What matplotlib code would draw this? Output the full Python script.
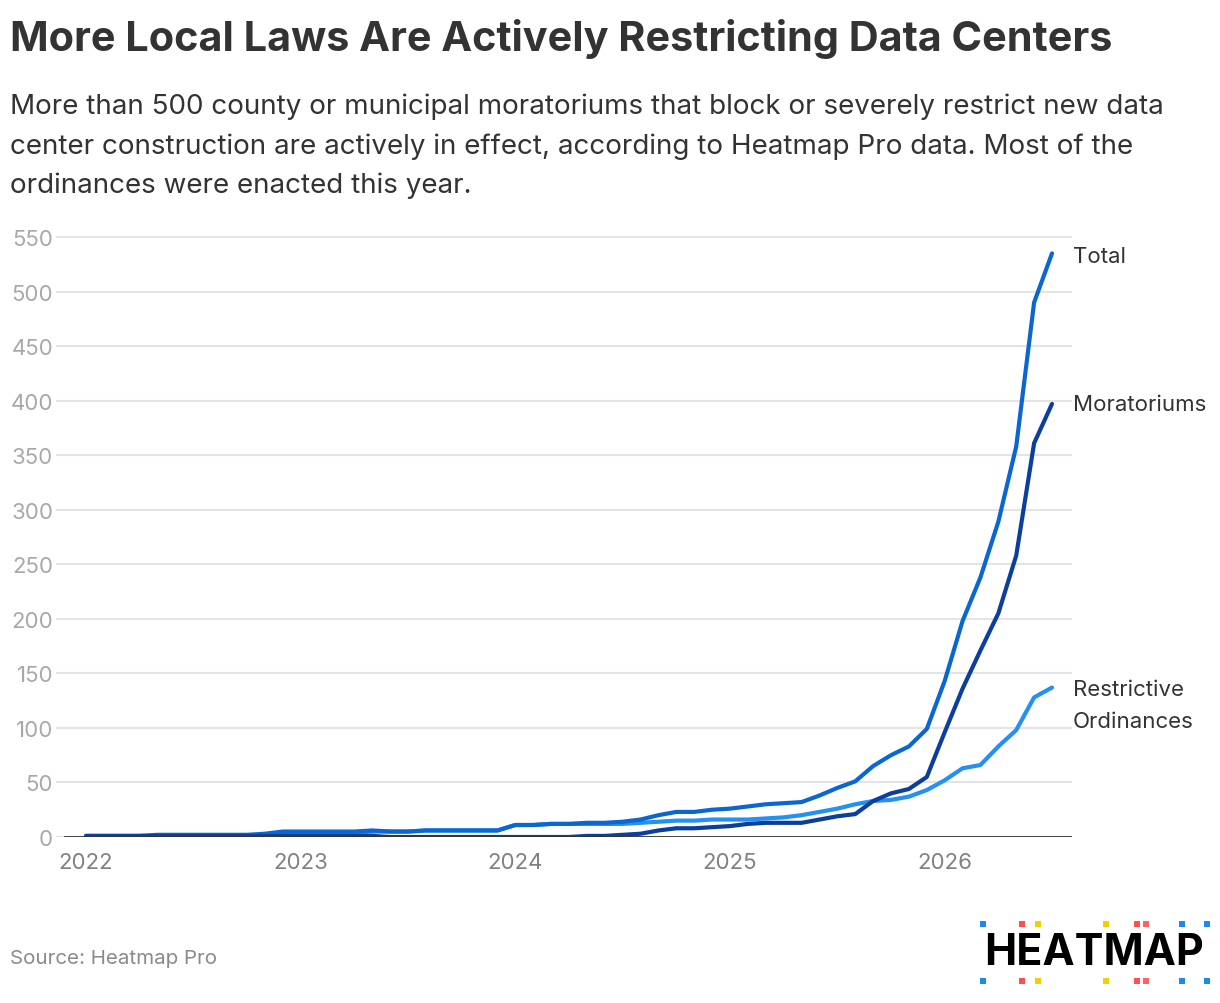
import numpy as np
import matplotlib
matplotlib.use("Agg")
import matplotlib.pyplot as plt
from matplotlib.patches import Rectangle

plt.rcParams['font.family'] = ['Inter', 'DejaVu Sans']

# monthly counts, Jan 2022 .. Jul 2026
total = [1, 1, 1, 1, 2, 2, 2, 2, 2, 2, 3, 5,
         5, 5, 5, 5, 6, 5, 5, 6, 6, 6, 6, 6,
         11, 11, 12, 12, 13, 13, 14, 16, 20, 23, 23, 25,
         26, 28, 30, 31, 32, 38, 45, 51, 65, 75, 83, 99,
         143, 198, 238, 289, 358, 490, 535]
moratoriums = [1, 1, 1, 1, 1, 1, 1, 1, 1, 1, 1, 1,
               1, 1, 1, 1, 1, 0, 0, 0, 0, 0, 0, 0,
               0, 0, 0, 0, 1, 1, 2, 3, 6, 8, 8, 9,
               10, 12, 13, 13, 13, 16, 19, 21, 33, 40, 44, 55,
               96, 136, 171, 205, 258, 361, 397]
restrictive = [0, 0, 0, 0, 1, 1, 1, 1, 1, 1, 2, 4,
               4, 4, 4, 4, 5, 5, 5, 6, 6, 6, 6, 6,
               11, 11, 12, 12, 12, 12, 12, 13, 14, 15, 15, 16,
               16, 16, 17, 18, 20, 23, 26, 30, 33, 34, 37, 43,
               52, 63, 66, 83, 98, 128, 137]
year_ticks = [0, 12, 24, 36, 48]
year_labels = ['2022', '2023', '2024', '2025', '2026']
y_ticks = list(range(0, 551, 50))

c_total = '#0a67d2'
c_mor = '#0a3f9e'
c_res = '#2490f2'
dark = '#333333'

W, H = 1220, 1004
fig = plt.figure(figsize=(W / 100, H / 100), dpi=100)
fig.patch.set_facecolor('white')

# axes placed in pixel terms
left, right = 56, 1072
bottom_px = 838
top_val = 552
px_per_unit = 600 / 550
top_px = bottom_px - top_val * px_per_unit
ax = fig.add_axes([left / W, (H - bottom_px) / H, (right - left) / W, (bottom_px - top_px) / H])

x = np.arange(len(total))
px_per_month = (1052 - 86) / 54
ax.set_xlim((left - 86) / px_per_month, (right - 86) / px_per_month)
ax.set_ylim(0, top_val)

ax.plot(x, restrictive, color=c_res, lw=3, solid_capstyle='round', zorder=3)
ax.plot(x, total, color=c_total, lw=3, solid_capstyle='round', zorder=4)
ax.plot(x, moratoriums, color=c_mor, lw=3, solid_capstyle='round', zorder=5)

for s in ax.spines.values():
    s.set_visible(False)
ax.set_yticks(y_ticks)
ax.yaxis.grid(True, color='#e4e4e4', lw=1.5)
ax.set_axisbelow(True)
ax.axhline(0, xmin=(65 - left) / (right - left), xmax=1, color=dark, lw=2, zorder=6)
ax.tick_params(axis='y', length=0, pad=2, labelsize=16, labelcolor='#a8a8a8')
ax.set_xticks(year_ticks)
ax.set_xticklabels(year_labels)
ax.tick_params(axis='x', length=0, pad=11, labelsize=16, labelcolor='#808080')

# end labels
ax.annotate('Total', xy=(x[-1], total[-1]), xytext=(15, -2), textcoords='offset points',
            va='center', ha='left', fontsize=16, color=dark)
ax.annotate('Moratoriums', xy=(x[-1], moratoriums[-1]), xytext=(15, 0), textcoords='offset points',
            va='center', ha='left', fontsize=16, color=dark)
ax.annotate('Restrictive\nOrdinances', xy=(x[-1], restrictive[-1]), xytext=(15, 6),
            textcoords='offset points', va='top', ha='left', fontsize=16, color=dark,
            linespacing=1.72)

fig.text(10 / W, 1 - 39 / H, 'More Local Laws Are Actively Restricting Data Centers',
         fontsize=29.8, fontweight='bold', color=dark, va='center', ha='left')
fig.text(10 / W, 1 - 94 / H,
         'More than 500 county or municipal moratoriums that block or severely restrict new data\n'
         'center construction are actively in effect, according to Heatmap Pro data. Most of the\n'
         'ordinances were enacted this year.',
         fontsize=20, color=dark, va='top', ha='left', linespacing=1.63)
fig.text(10 / W, 1 - 959 / H, 'Source: Heatmap Pro', fontsize=14.8, color='#8a8a8a',
         va='center', ha='left')

# logo
fig.text(1094 / W, 1 - 954 / H, 'HEATMAP', fontsize=31, fontweight='bold', color='black',
         va='center', ha='center')
dot_x = [983, 1022, 1038, 1106, 1137, 1146, 1182, 1207]
dot_c = ['#1e88f0', '#ff4f4f', '#f0d000', '#f0d000', '#ff4f4f', '#ff6060', '#1e88f0', '#1e88f0']
for dy in (925, 982):
    for dx, dc in zip(dot_x, dot_c):
        fig.patches.append(Rectangle(((dx - 3) / W, 1 - (dy + 3) / H), 6 / W, 6 / H,
                                     transform=fig.transFigure, color=dc, lw=0))

fig.savefig('out.png', dpi=100)
